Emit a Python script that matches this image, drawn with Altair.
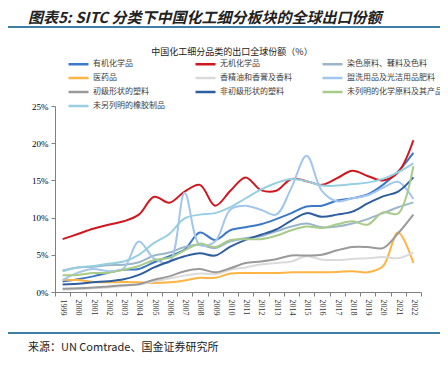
import altair as alt
import pandas as pd

years = list(range(1999, 2023))

names = ["有机化学品", "无机化学品", "染色原料、鞣料及色料",
         "医药品", "香精油和香膏及香料", "盥洗用品及光洁用品肥料",
         "初级形状的塑料", "非初级形状的塑料", "未列明的化学原料及其产品",
         "未另列明的橡胶制品"]
colors = ["#3C78C8", "#D0161E", "#9CB6C9",
          "#FFB443", "#DADADA", "#A3C6EE",
          "#9A9A9A", "#2E5E9E", "#A8CB8A",
          "#97CFE0"]

organic = [1.4, 1.7, 2.1, 2.6, 3.0, 3.1, 4.0, 4.8, 5.7, 8.0, 7.0, 8.3, 8.7, 9.1, 9.8, 10.6, 11.5, 11.6, 12.3, 12.6, 13.1, 14.4, 16.2, 18.7]
inorganic = [7.1, 7.8, 8.5, 9.05, 9.5, 10.4, 12.8, 12.0, 13.5, 14.4, 11.6, 13.6, 15.4, 13.7, 13.6, 15.2, 14.9, 14.4, 15.3, 16.3, 15.6, 15.0, 16.1, 20.4]
dyes = [2.9, 3.3, 3.4, 3.6, 3.65, 4.0, 4.9, 5.3, 6.05, 6.35, 5.9, 6.8, 7.25, 7.5, 8.15, 8.8, 9.2, 8.7, 8.8, 9.2, 9.8, 10.6, 11.4, 12.05]
pharma = [1.65, 1.6, 1.35, 1.3, 1.35, 1.3, 1.2, 1.3, 1.55, 1.9, 1.9, 2.5, 2.55, 2.55, 2.55, 2.65, 2.65, 2.65, 2.7, 2.8, 2.65, 3.45, 8.0, 3.9]
essential = [0.3, 0.4, 0.5, 0.6, 0.8, 1.0, 1.4, 1.8, 2.2, 2.5, 2.4, 3.0, 3.3, 3.7, 3.9, 4.1, 4.8, 4.35, 4.3, 4.45, 4.55, 4.7, 4.55, 5.3]
toilet = [1.6, 2.6, 3.1, 2.8, 3.2, 6.8, 4.5, 4.0, 13.3, 6.3, 6.8, 11.1, 11.6, 11.05, 10.4, 14.0, 18.3, 13.6, 12.2, 12.6, 13.0, 14.0, 14.8, 12.5]
plastic_primary = [0.45, 0.5, 0.6, 0.75, 0.9, 1.05, 1.65, 2.1, 2.8, 3.1, 2.65, 3.2, 3.9, 4.1, 4.4, 4.9, 4.9, 5.0, 5.6, 6.05, 6.05, 5.9, 7.9, 10.4]
plastic_nonprimary = [1.0, 1.1, 1.3, 1.45, 1.7, 2.3, 3.3, 4.1, 4.8, 5.2, 4.9, 6.1, 7.0, 7.7, 8.4, 9.6, 10.6, 10.1, 10.4, 10.8, 11.9, 12.85, 13.5, 15.4]
other_chem = [2.25, 2.3, 2.55, 2.6, 3.0, 3.5, 4.3, 4.6, 5.6, 6.5, 6.05, 7.0, 7.1, 7.1, 7.55, 8.3, 8.8, 8.6, 9.1, 9.5, 9.05, 10.7, 10.55, 16.9]
rubber = [2.8, 3.3, 3.5, 3.8, 4.1, 5.0, 6.6, 7.8, 9.9, 10.4, 10.6, 11.4, 12.6, 13.75, 14.65, 15.2, 14.9, 14.3, 14.3, 14.5, 14.7, 15.2, 16.1, 17.3]

series = [organic, inorganic, dyes, pharma, essential, toilet,
          plastic_primary, plastic_nonprimary, other_chem, rubber]

header = "图表5: SITC 分类下中国化工细分板块的全球出口份额"
subtitle = "中国化工细分品类的出口全球份额（%）"
source = "来源：UN Comtrade、国金证券研究所"
y_ticks = [0, 5, 10, 15, 20, 25]

rows = []
for i, (n, vals) in enumerate(zip(names, series)):
    for y, v in zip(years, vals):
        rows.append({"year": str(y), "series": n, "value": v, "order": i})
df = pd.DataFrame(rows)

FONT = "Noto Sans CJK SC"

lines = alt.Chart(df).mark_line(interpolate="catmull-rom", strokeWidth=2).encode(
    x=alt.X("year:O", bandPosition=0.5,
            scale=alt.Scale(type="band", paddingInner=0, paddingOuter=0),
            axis=alt.Axis(title=None, labelAngle=90, tickBand="extent",
                          domainColor="#808080", tickColor="#808080", tickSize=4,
                          labelFont="Liberation Serif", labelFontSize=8,
                          labelColor="#333333", labelPadding=3)),
    y=alt.Y("value:Q", scale=alt.Scale(domain=[0, 25], nice=False),
            axis=alt.Axis(title=None, values=y_ticks, grid=False,
                          labelExpr="datum.value + '%'",
                          domainColor="#808080", tickColor="#808080", tickSize=4,
                          labelFont="Liberation Serif", labelFontSize=9,
                          labelColor="#000000", labelPadding=3)),
    color=alt.Color("series:N", scale=alt.Scale(domain=names, range=colors),
                    legend=alt.Legend(title=None, orient="none", legendX=12, legendY=-48.5,
                                      direction="horizontal",
                                      columns=3, symbolType="M-1,0H3", symbolSize=100,
                                      symbolStrokeWidth=2.5, labelFont=FONT,
                                      labelFontSize=8, labelColor="#404040",
                                      labelOffset=13, labelLimit=200, gridAlign="all",
                                      columnPadding=1, rowPadding=2)),
    order=alt.Order("order:Q"),
)

header_t = alt.Chart(pd.DataFrame({"t": [header]})).mark_text(
    font=FONT, fontSize=15, fontWeight="bold", fontStyle="italic",
    align="left", baseline="middle", color="#222222"
).encode(text="t:N", x=alt.value(-27), y=alt.value(-88))

sub_t = alt.Chart(pd.DataFrame({"t": [subtitle]})).mark_text(
    font=FONT, fontSize=9, align="center", baseline="middle", color="#222222"
).encode(text="t:N", x=alt.value(177), y=alt.value(-54))

src_t = alt.Chart(pd.DataFrame({"t": [source]})).mark_text(
    font=FONT, fontSize=11, align="left", baseline="middle", color="#222222"
).encode(text="t:N", x=alt.value(-27), y=alt.value(242))

rule_top = alt.Chart(pd.DataFrame({"a": [0]})).mark_rule(
    color="#3F7EA6", strokeWidth=2
).encode(x=alt.value(-47), x2=alt.value(385), y=alt.value(-79))

rule_bot = alt.Chart(pd.DataFrame({"a": [0]})).mark_rule(
    color="#3F7EA6", strokeWidth=2
).encode(x=alt.value(-47), x2=alt.value(385), y=alt.value(227))

chart = alt.layer(lines, header_t, sub_t, src_t, rule_top, rule_bot).properties(
    width=366, height=186,
    padding={"left": 47, "top": 98, "right": 19, "bottom": 68},
    autosize=alt.AutoSizeParams(type="none"),
).configure_view(stroke=None)

chart.save("out.html", embed_options={"renderer": "svg", "actions": False})
